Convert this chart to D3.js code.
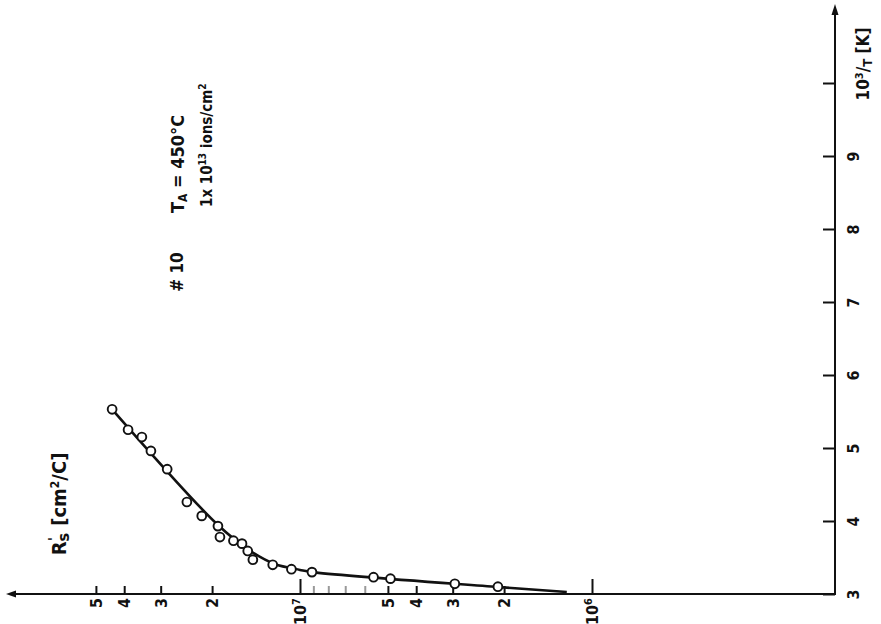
<!DOCTYPE html>
<html>
<head>
<meta charset="utf-8">
<script src="https://cdn.jsdelivr.net/npm/d3@7"></script>
<style>
  body { margin: 0; background: #fff; }
  text { font-family: "DejaVu Sans Condensed", "DejaVu Sans", sans-serif; font-weight: bold; fill: #111; }
</style>
</head>
<body>
<svg id="plot" width="881" height="624"></svg>
<script>
// measured points: 10^3/T [1/K] and Rs' [cm^2/C]
invT = [5.53, 5.25, 5.15, 4.96, 4.71, 4.26, 4.07, 3.93, 3.78, 3.73, 3.69, 3.59, 3.47, 3.40, 3.34, 3.30, 3.23, 3.21, 3.14, 3.10];
rsVals = [4.4e7, 3.88e7, 3.48e7, 3.24e7, 2.85e7, 2.44e7, 2.17e7, 1.91e7, 1.88e7, 1.69e7, 1.58e7, 1.51e7, 1.45e7, 1.24e7, 1.07e7, 9.1e6, 5.6e6, 4.9e6, 2.95e6, 2.1e6];

// drawn fit curve
fitT = [5.53, 3.945, 3.59, 3.41, 3.33, 3.30, 3.096, 3.027];
fitRs = [4.4e7, 1.91e7, 1.48e7, 1.22e7, 1.0e7, 9.1e6, 2.1e6, 1.22e6];

tTicks = [3, 4, 5, 6, 7, 8, 9, 10];
tLabels = ["3", "4", "5", "6", "7", "8", "9", ""];
rsTicks = [1e6, 2e6, 3e6, 4e6, 5e6, 6e6, 7e6, 8e6, 9e6, 1e7, 2e7, 3e7, 4e7, 5e7];
rsLabels = ["10|6", "2", "3", "4", "5", "", "", "", "", "10|7", "2", "3", "4", "5"];

axisX = 835;
axisY = 594;

const svg = d3.select("#plot");

x = d3.scaleLog()
    .domain([1e6, 1e7])
    .range([592, 300]);

y = d3.scaleLinear()
    .domain([3, 10])
    .range([axisY, 83]);

// Rs axis (horizontal, values grow to the left)
const rsAxis = svg.append("g")
    .attr("transform", `translate(0,${axisY})`)
    .call(d3.axisBottom(x)
        .tickValues(rsTicks)
        .tickSize(-8)
        .tickSizeOuter(0)
        .tickFormat((d, i) => rsLabels[i]));
rsAxis.select(".domain").remove();
rsAxis.selectAll(".tick line")
    .attr("y2", d => (d === 1e6 || d === 1e7) ? -15 : -8)
    .attr("stroke", d => (d > 5e6 && d < 1e7) ? "#999" : "#111")
    .attr("stroke-width", 2);
rsAxis.selectAll(".tick text")
    .attr("transform", "rotate(-90)")
    .attr("x", -4)
    .attr("y", 0)
    .attr("dy", "0.36em")
    .attr("text-anchor", "end")
    .attr("font-size", 16)
    .each(function (d, i) {
        const parts = rsLabels[i].split("|");
        const t = d3.select(this).text(parts[0]);
        if (parts.length > 1) {
            t.append("tspan")
                .attr("baseline-shift", "super")
                .attr("font-size", 11)
                .text(parts[1]);
        }
    });

svg.append("line")
    .attr("x1", axisX).attr("x2", 10)
    .attr("y1", axisY).attr("y2", axisY)
    .attr("stroke", "#111").attr("stroke-width", 2);
svg.append("path")
    .attr("d", `M6,${axisY} L16,${axisY - 3.5} L16,${axisY + 3.5} Z`)
    .attr("fill", "#111");

// 10^3/T axis (vertical, right side)
const tAxis = svg.append("g")
    .attr("transform", `translate(${axisX},0)`)
    .call(d3.axisRight(y)
        .tickValues(tTicks)
        .tickSize(-12)
        .tickSizeOuter(0)
        .tickFormat((d, i) => tLabels[i]));
tAxis.select(".domain").remove();
tAxis.selectAll(".tick line")
    .attr("stroke", "#111")
    .attr("stroke-width", 2);
tAxis.selectAll(".tick text")
    .attr("transform", "rotate(-90)")
    .attr("x", 0)
    .attr("y", 24)
    .attr("dy", 0)
    .attr("text-anchor", "middle")
    .attr("font-size", 16);

svg.append("line")
    .attr("x1", axisX).attr("x2", axisX)
    .attr("y1", axisY + 1).attr("y2", 8)
    .attr("stroke", "#111").attr("stroke-width", 2);
svg.append("path")
    .attr("d", `M${axisX},4 L${axisX - 3.5},15 L${axisX + 3.5},15 Z`)
    .attr("fill", "#111");

// fit curve
const line = d3.line()
    .x((d, i) => x(fitRs[i]))
    .y(d => y(d))
    .curve(d3.curveCatmullRom.alpha(0.5));

svg.append("path")
    .datum(fitT)
    .attr("fill", "none")
    .attr("stroke", "#111")
    .attr("stroke-width", 2.6)
    .attr("d", line);

// measured points
svg.append("g")
    .selectAll("circle")
    .data(invT)
    .join("circle")
    .attr("cx", (d, i) => x(rsVals[i]))
    .attr("cy", d => y(d))
    .attr("r", 4.4)
    .attr("fill", "#fff")
    .attr("stroke", "#111")
    .attr("stroke-width", 1.9);

// axis titles
const tTitle = svg.append("text")
    .attr("transform", "translate(869,64) rotate(-90)")
    .attr("text-anchor", "middle")
    .attr("font-size", 17);
tTitle.append("tspan").text("10");
tTitle.append("tspan").attr("dy", -6).attr("font-size", 11).text("3");
tTitle.append("tspan").attr("dy", 6).text("/");
tTitle.append("tspan").attr("dy", 3).attr("font-size", 13).text("T");
tTitle.append("tspan").attr("dy", -3).text(" [K]");

const rsTitle = svg.append("text")
    .attr("transform", "translate(66,504) rotate(-90)")
    .attr("text-anchor", "middle")
    .attr("font-size", 20);
rsTitle.append("tspan").text("R");
rsTitle.append("tspan").attr("dy", 3).attr("font-size", 16).text("s");
rsTitle.append("tspan").attr("dx", -8).attr("dy", -11).attr("font-size", 14).text("'");
rsTitle.append("tspan").attr("dx", 5).attr("dy", 8).text(" [cm");
rsTitle.append("tspan").attr("dy", -7).attr("font-size", 12).text("2");
rsTitle.append("tspan").attr("dy", 7).text("/C]");

// annotations
svg.append("text")
    .attr("transform", "translate(183,272) rotate(-90)")
    .attr("text-anchor", "middle")
    .attr("font-size", 17)
    .text("# 10");

const ta = svg.append("text")
    .attr("transform", "translate(184,213) rotate(-90)")
    .attr("font-size", 18);
ta.append("tspan").text("T");
ta.append("tspan").attr("dy", 3).attr("font-size", 12).text("A");
ta.append("tspan").attr("dy", -3).text(" = 450°C");

const dose = svg.append("text")
    .attr("transform", "translate(212,207) rotate(-90)")
    .attr("font-size", 15);
dose.append("tspan").text("1x 10");
dose.append("tspan").attr("dy", -6).attr("font-size", 10).text("13");
dose.append("tspan").attr("dy", 6).text(" ions/cm");
dose.append("tspan").attr("dy", -6).attr("font-size", 10).text("2");
</script>
</body>
</html>
